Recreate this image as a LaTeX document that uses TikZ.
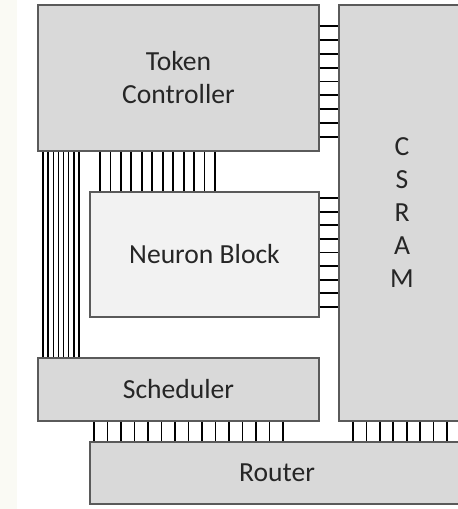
\documentclass[tikz,border=0pt]{standalone}
\usepackage{fontspec}
\setmainfont{Carlito}
\usetikzlibrary{positioning}
\definecolor{BlockGrey}{HTML}{D9D9D9}
\definecolor{BlockLight}{HTML}{F2F2F2}
\definecolor{EdgeGrey}{HTML}{5A5A5A}
\definecolor{Ink}{HTML}{262626}
\definecolor{PaperTint}{HTML}{FAFAF4}

\begin{document}
\begin{tikzpicture}[x=1pt,y=-1pt,
  block/.style={draw=EdgeGrey,line width=1.2pt,fill=BlockGrey,inner sep=0pt,align=center,text=Ink,font=\fontsize{27.6}{33}\selectfont},
  lightblock/.style={block,fill=BlockLight},
  bus/.style={draw=black,line width=1.8pt},
  thinbus/.style={draw=black,line width=1.4pt}
]
\path[use as bounding box,clip] (0,0) rectangle (458,509);
\fill[PaperTint] (0,0) rectangle (17,509);
% blocks
\node[block,minimum width=281pt,minimum height=146pt] (token) at (178.5,78) {Token\\Controller};
\node[block,minimum width=126pt,minimum height=416pt] (csram) at (402,213) {C\\S\\R\\A\\M};
\node[lightblock,minimum width=229pt,minimum height=125pt] (neuron) at (204.5,254.5) {Neuron Block};
\node[block,minimum width=281pt,minimum height=63pt] (sched) at (178.5,389.5) {Scheduler};
\node[block,minimum width=374pt,minimum height=62pt] (router) at (277,473) {Router};
% buses
\foreach \i in {0,...,8}
  \draw[bus] (token.east |- 0,{26+13.875*\i}) -- (csram.west |- 0,{26+13.875*\i});
\foreach \i in {0,...,8}
  \draw[bus] (neuron.east |- 0,{198+13.625*\i}) -- (csram.west |- 0,{198+13.625*\i});
\foreach \i in {0,...,11}
  \draw[bus] (token.south -| {100+10.45*\i},0) -- (neuron.north -| {100+10.45*\i},0);
\foreach \i in {0,...,7}
  \draw[thinbus] (token.south -| {43+5.14*\i},0) -- (sched.north -| {43+5.14*\i},0);
\foreach \i in {0,...,14}
  \draw[bus] (sched.south -| {94+13.5*\i},0) -- (router.north -| {94+13.5*\i},0);
\foreach \i in {0,...,7}
  \draw[bus] (csram.south -| {353+13.43*\i},0) -- (router.north -| {353+13.43*\i},0);
\end{tikzpicture}
\end{document}
